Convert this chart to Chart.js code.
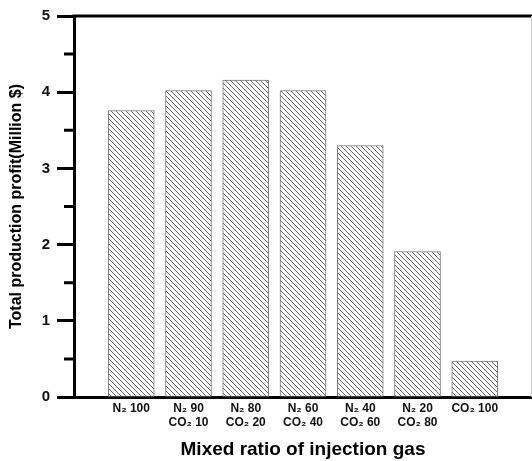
<!DOCTYPE html>
<html>
<head>
<meta charset="utf-8">
<script src="https://cdn.jsdelivr.net/npm/chart.js@4/dist/chart.umd.min.js"></script>
<style>
  html, body { margin: 0; padding: 0; background: #fff; }
  #wrap { width: 532px; height: 461px; }
</style>
</head>
<body>
<div id="wrap"><canvas id="c"></canvas></div>
<script>
const categories = [
    'N₂ 100',
    ['N₂ 90', 'CO₂ 10'],
    ['N₂ 80', 'CO₂ 20'],
    ['N₂ 60', 'CO₂ 40'],
    ['N₂ 40', 'CO₂ 60'],
    ['N₂ 20', 'CO₂ 80'],
    'CO₂ 100'
];
const profit = [3.76, 4.02, 4.16, 4.02, 3.30, 1.91, 0.47];
const yTicks = [0, 1, 2, 3, 4, 5];
const yMinorTicks = [0.5, 1.5, 2.5, 3.5, 4.5];

// diagonal hatch fill
const makeHatch = () => {
    const s = 5;
    const p = document.createElement('canvas');
    p.width = s; p.height = s;
    const g = p.getContext('2d');
    g.fillStyle = '#fff';
    g.fillRect(0, 0, s, s);
    g.strokeStyle = '#666';
    g.lineWidth = 1;
    g.beginPath();
    g.moveTo(-1, -1); g.lineTo(s + 1, s + 1);
    g.moveTo(-1, s - 1); g.lineTo(1, s + 1);
    g.moveTo(s - 1, -1); g.lineTo(s + 1, 1);
    g.stroke();
    return g.createPattern(p, 'repeat');
};

const frame = {
    id: 'frame',
    afterDraw(chart) {
        const { ctx, chartArea, scales } = chart;
        ctx.save();
        ctx.strokeStyle = '#000';
        ctx.lineWidth = 3;
        ctx.beginPath();
        ctx.moveTo(chartArea.left - 1.5, chartArea.top);
        ctx.lineTo(chartArea.right, chartArea.top);
        ctx.stroke();
        ctx.beginPath();
        yMinorTicks.forEach(v => {
            const y = scales.y.getPixelForValue(v);
            ctx.moveTo(chartArea.left - 10, y);
            ctx.lineTo(chartArea.left, y);
        });
        ctx.stroke();
        ctx.strokeStyle = '#ccc';
        ctx.lineWidth = 1;
        ctx.beginPath();
        ctx.moveTo(chartArea.right - 0.5, chartArea.top);
        ctx.lineTo(chartArea.right - 0.5, chartArea.bottom);
        ctx.stroke();
        ctx.restore();
    }
};

const font = { family: 'Liberation Sans, Arial, sans-serif', weight: 'bold' };

new Chart(document.getElementById('c'), {
    type: 'bar',
    data: {
        labels: ['', ...categories, ''],
        datasets: [{
            data: [null, ...profit, null],
            backgroundColor: makeHatch(),
            borderColor: '#777',
            borderWidth: 1,
            borderSkipped: false,
            barThickness: 46
        }]
    },
    options: {
        responsive: true,
        maintainAspectRatio: false,
        animation: false,
        layout: { padding: { top: 15, right: 0, left: 0, bottom: 0 } },
        plugins: { legend: { display: false }, tooltip: { enabled: false } },
        scales: {
            x: {
                offset: false,
                grid: { display: false, drawTicks: false },
                border: { display: true, color: '#000', width: 3 },
                ticks: {
                    color: '#111',
                    padding: 5,
                    autoSkip: false,
                    maxRotation: 0,
                    font: { ...font, size: 12, lineHeight: 1.15 }
                },
                title: {
                    display: true,
                    text: 'Mixed ratio of injection gas',
                    color: '#000',
                    padding: { top: 0, bottom: 0 },
                    font: { ...font, size: 19 }
                },
                afterFit: s => {
                    s.height = 64;
                    s.paddingLeft = 0;
                    s.paddingRight = 0;
                }
            },
            y: {
                min: 0,
                max: 5,
                afterBuildTicks: s => { s.ticks = yTicks.map(v => ({ value: v })); },
                grid: {
                    display: true,
                    drawOnChartArea: false,
                    drawTicks: true,
                    tickLength: 17,
                    tickWidth: 3,
                    tickColor: '#000'
                },
                border: { display: true, color: '#000', width: 3 },
                ticks: {
                    color: '#111',
                    padding: 7,
                    font: { ...font, size: 15 }
                },
                title: {
                    display: true,
                    text: 'Total production profit(Million $)',
                    color: '#000',
                    padding: { top: 7, bottom: 0 },
                    font: { ...font, size: 16 }
                },
                afterFit: s => { s.width = 74; }
            }
        }
    },
    plugins: [frame]
});
</script>
</body>
</html>
